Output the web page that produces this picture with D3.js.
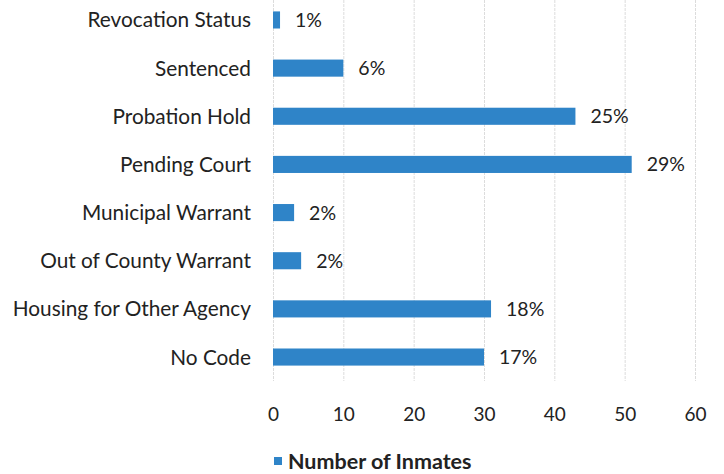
<!DOCTYPE html>
<html>
<head>
<meta charset="utf-8">
<script src="https://cdn.jsdelivr.net/npm/d3@7"></script>
<style>
  body { margin: 0; background: #fff; }
  text { font-family: Lato, "Open Sans", sans-serif; fill: #222; }
</style>
</head>
<body>
<script>
// chart data
const categories = ["Revocation Status", "Sentenced", "Probation Hold", "Pending Court",
  "Municipal Warrant", "Out of County Warrant", "Housing for Other Agency", "No Code"];
const inmates = [1, 10, 43, 51, 3, 4, 31, 30];
const pctLabels = ["1%", "6%", "25%", "29%", "2%", "2%", "18%", "17%"];
const xTicks = [0, 10, 20, 30, 40, 50, 60];
const seriesName = "Number of Inmates";

const width = 724, height = 474;
const margin = {top: -4, right: 29, bottom: 93, left: 273};
const barColor = "#2f84c8";

const svg = d3.select("body").append("svg")
  .attr("width", width)
  .attr("height", height);

const xScale = d3.scaleLinear()
  .domain([0, 60])
  .range([margin.left, width - margin.right]);
const yScale = d3.scaleBand()
  .domain(categories)
  .range([margin.top, height - margin.bottom])
  .paddingInner(0.645)
  .paddingOuter(0.32);

// grid lines
svg.append("g")
  .selectAll("line")
  .data(xTicks)
  .join("line")
  .attr("x1", d => xScale(d) + 0.5)
  .attr("x2", d => xScale(d) + 0.5)
  .attr("y1", 0)
  .attr("y2", 381)
  .attr("stroke", "#dcdcdc")
  .attr("stroke-dasharray", "3,1")
  .attr("stroke-width", 1);

// bars
svg.append("g")
  .selectAll("rect")
  .data(inmates)
  .join("rect")
  .attr("x", xScale(0))
  .attr("y", (d, i) => yScale(categories[i]))
  .attr("width", d => xScale(d) - xScale(0))
  .attr("height", yScale.bandwidth())
  .attr("fill", barColor);

// value labels
svg.append("g")
  .selectAll("text")
  .data(inmates)
  .join("text")
  .attr("x", d => xScale(d) + 15)
  .attr("y", (d, i) => yScale(categories[i]) + yScale.bandwidth() / 2)
  .attr("dy", "0.36em")
  .attr("font-size", 19.5)
  .text((d, i) => pctLabels[i]);

// category axis
const yAxis = svg.append("g")
  .attr("transform", `translate(${margin.left - 22},0)`)
  .call(d3.axisLeft(yScale).tickSize(0).tickPadding(0));
yAxis.select(".domain").remove();
yAxis.selectAll("text")
  .attr("font-size", 20.8)
  .attr("dy", "0.36em")
  .style("font-family", "Lato, 'Open Sans', sans-serif")
  .attr("fill", "#222");

// value axis
const xAxis = svg.append("g")
  .attr("transform", "translate(0,396)")
  .call(d3.axisBottom(xScale).tickValues(xTicks).tickSize(0).tickPadding(12));
xAxis.select(".domain").remove();
xAxis.selectAll("text")
  .attr("font-size", 19)
  .style("font-family", "Lato, 'Open Sans', sans-serif")
  .attr("fill", "#222");

// legend
const legend = svg.append("g").attr("transform", "translate(274,457)");
legend.append("rect")
  .attr("width", 8)
  .attr("height", 8)
  .attr("fill", barColor);
legend.append("text")
  .attr("x", 14)
  .attr("y", 4)
  .attr("dy", "0.36em")
  .attr("font-size", 21.5)
  .attr("font-weight", "bold")
  .text(seriesName);
</script>
</body>
</html>
